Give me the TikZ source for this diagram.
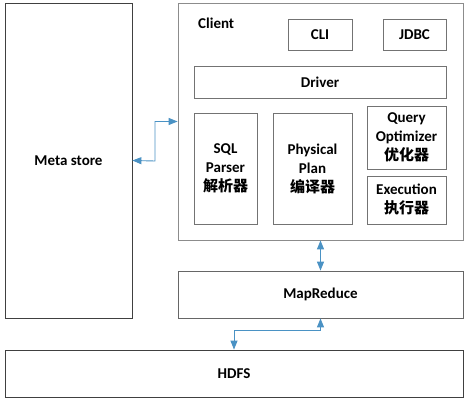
\documentclass[tikz,border=0pt]{standalone}
\usepackage{fontspec}
\setmainfont{Carlito}
\newfontfamily\cjk{Noto Sans CJK SC}
\usepackage{tikz}
\usetikzlibrary{arrows.meta}
\usetikzlibrary{positioning}
\definecolor{linkblue}{RGB}{74,146,196}

\begin{document}
\begin{tikzpicture}[x=1pt,y=-1pt,
  box/.style={draw=black!55,line width=0.8pt,rectangle,inner sep=0pt,align=center,
    font=\fontsize{15}{19}\selectfont\bfseries},
  outer/.style={box,draw=black!75},
  link/.style={draw=linkblue,line width=0.9pt,
    {Triangle[length=9pt,width=7pt]}-{Triangle[length=9pt,width=7pt]}}]
\useasboundingbox[fill=white] (0,0) rectangle (474,406);

\node[outer,minimum width=127pt,minimum height=315pt] (meta) at (68.5,160.5) {Meta store};
\node[box,draw=black!45,minimum width=285pt,minimum height=237pt] (client) at (320.5,121.5) {};
\node[anchor=west,inner sep=0pt,font=\fontsize{15}{19}\selectfont\bfseries] (clientlbl) at (198,23) {Client};

\node[box,minimum width=64pt,minimum height=31pt] (cli) at (320,34.5) {CLI};
\node[box,minimum width=63pt,minimum height=31pt] (jdbc) at (414.5,34.5) {JDBC};
\node[box,minimum width=252pt,minimum height=32pt] (driver) at (320,82) {Driver};

\node[box,minimum width=63pt,minimum height=111pt] (parser) at (225.5,168.5) {SQL\\Parser\\{\cjk 解析器}};
\node[box,minimum width=79pt,minimum height=111pt] (plan) at (312.5,168.5) {Physical\\Plan\\{\cjk 编译器}};
\node[box,minimum width=79pt,minimum height=63pt] (optim) at (406.5,137.5) {Query\\Optimizer\\{\cjk 优化器}};
\node[box,minimum width=79pt,minimum height=48pt] (exec) at (406.5,200) {Execution\\{\cjk 执行器}};

\node[box,draw=black!60,minimum width=285pt,minimum height=47pt] (mr) at (320.5,294.5) {MapReduce};
\node[outer,minimum width=458pt,minimum height=47pt] (hdfs) at (234,373.5) {HDFS};

% connectors
\coordinate (mbend) at (155,161);
\draw[link] (meta.east) -- (mbend) |- (client.west);
\draw[link] (client.south) -- (mr.north);
\draw[link] (mr.south) -- ++(0,12) -| (hdfs.north);

\end{tikzpicture}
\end{document}
